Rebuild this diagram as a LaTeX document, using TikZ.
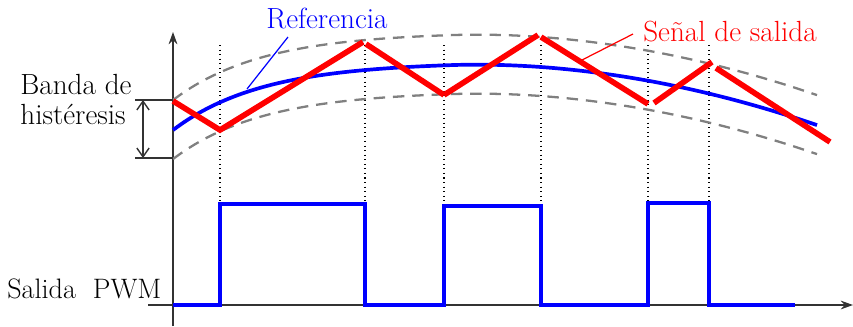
\documentclass[tikz,border=0pt]{standalone}
\usetikzlibrary{arrows.meta}
\begin{document}
\begin{tikzpicture}[x=0.02cm,y=-0.02cm,
  declare function={refc(\t)=62+68*exp(-(\t-173)/90)+4.68*(max(\t-450,0)/100)^2;},
  axis/.style={draw=black!80, line width=0.8pt},
  band/.style={draw=black!50, line width=1.3pt, dash pattern=on 6.5pt off 4.5pt},
  refline/.style={draw=blue, line width=2.1pt},
  outline/.style={draw=red, line width=3.2pt, line cap=butt},
  pwm/.style={draw=blue, line width=2.1pt, line join=miter},
  guide/.style={draw=black, line width=0.6pt, dotted},
  lbl/.style={font=\fontsize{16.6}{18}\selectfont, inner sep=0pt},
  leader/.style={line width=0.7pt}]
\useasboundingbox (0,0) rectangle (853,326);
% axes
\coordinate (yb) at (173,326);
\coordinate (yt) at (173,32);
\coordinate (xl) at (148,305);
\coordinate (xr) at (853,305);
\draw[axis,-{Stealth[length=7pt,width=5pt]}] (yb) -- (yt);
\draw[axis,-{Stealth[length=7pt,width=5pt]}] (xl) -- (xr);
% dotted guides
\foreach \x/\n in {220/a,365/b,444/c,541/d,648/e,709/f}{
  \coordinate (g\n t) at (\x,45);
  \coordinate (g\n b) at (\x,309);
  \draw[guide] (g\n t) -- (g\n b);
}
% band limits
\draw[band] plot[domain=173:817, samples=60, smooth] (\x,{refc(\x)-30});
\draw[band] plot[domain=173:817, samples=60, smooth] (\x,{refc(\x)+29});
% reference
\draw[refline] plot[domain=173:817, samples=60, smooth] (\x,{refc(\x)});
% output signal
\coordinate (r0) at (173,101);
\coordinate (r1) at (220,130);
\coordinate (r2) at (363,42);
\coordinate (r2b) at (366,44);
\coordinate (r3) at (444,95);
\coordinate (r4) at (538,35);
\coordinate (r4b) at (541,37);
\coordinate (r5) at (648,104);
\coordinate (r5b) at (654,103);
\coordinate (r6) at (712,62);
\coordinate (r6b) at (716,68);
\coordinate (r7) at (830,142);
\draw[outline, line join=miter] (r0) -- (r1) -- (r2);
\draw[outline] (r2b) -- (r3);
\draw[outline] (r3) -- (r4);
\draw[outline] (r4b) -- (r5);
\draw[outline] (r5b) -- (r6);
\draw[outline] (r6b) -- (r7);
% PWM
\draw[pwm] (173,305) -- (220,305) -- (220,204) -- (365,204) -- (365,305) -- (444,305) -- (444,206) -- (541,206) -- (541,305) -- (648,305) -- (648,203) -- (709,203) -- (709,305) -- (795,305);
% hysteresis band bracket
\coordinate (h1l) at (135,100);
\coordinate (h1r) at (173,100);
\coordinate (h2l) at (135,158);
\coordinate (h2r) at (173,158);
\draw[axis] (h1l) -- (h1r);
\draw[axis] (h2l) -- (h2r);
\coordinate (ha) at (143,100);
\coordinate (hb) at (143,158);
\draw[axis,{Straight Barb[length=5pt,width=7pt]}-{Straight Barb[length=5pt,width=7pt]}] (ha) -- (hb);
% labels
\node[lbl, align=left, anchor=base west] (banda) at (20,124) {Banda de\\[-1pt]histéresis};
\node[lbl, font=\fontsize{16}{18}\selectfont, anchor=base west] (pwmlbl) at (7,298) {Salida\ \ PWM};
\node[lbl, text=blue, anchor=base] (ref) at (327,28) {Referencia};
\node[lbl, text=red, anchor=base] (sal) at (730,41) {Señal de salida};
\coordinate (refend) at (247,89);
\coordinate (refstart) at (288,37);
\draw[leader, blue] (refstart) -- (refend);
\coordinate (salstart) at (633,34);
\coordinate (salend) at (582,60);
\draw[leader, red] (salstart) -- (salend);
\end{tikzpicture}
\end{document}
